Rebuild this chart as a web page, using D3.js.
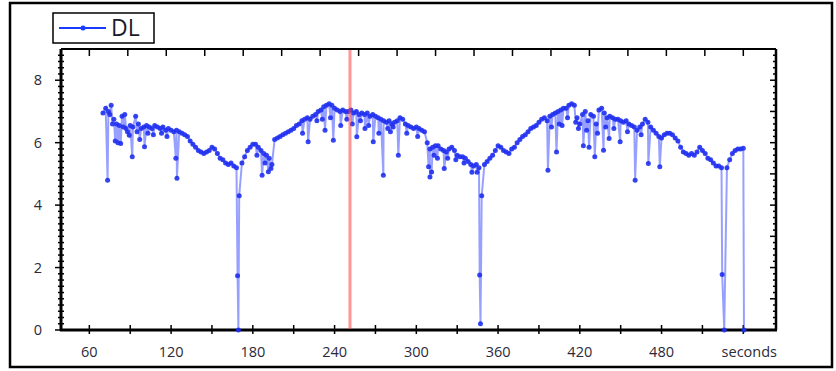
<!DOCTYPE html>
<html>
<head>
<meta charset="utf-8">
<script src="https://cdn.jsdelivr.net/npm/d3@7"></script>
<style>
  body { margin: 0; background: #fff; }
  svg { display: block; font-family: 'Open Sans', 'Noto Sans', sans-serif; }
</style>
</head>
<body>
<div id="chart"></div>
<script>
// DL samples every 2 s starting at 70 s
const startSec = 70;
const stepSec = 2;
const dlBase = [
  6.95, 7.1, 7.0, 7.2, 6.75, 6.6, 6.55, 6.85, 6.9, 6.35,   // 70-88
  6.55, 6.5, 6.85, 6.6, 6.45, 6.5, 6.55, 6.5, 6.45, 6.55,  // 90-108
  6.5, 6.45, 6.5, 6.4, 6.45, 6.4, 6.35, 6.4, 6.35, 6.3,    // 110-128
  6.25, 6.2, 6.05, 5.95, 5.85, 5.75, 5.7, 5.65, 5.7, 5.75, // 130-148
  5.85, 5.8, 5.65, 5.5, 5.45, 5.35, 5.3, 5.35, 5.25, 5.2,  // 150-168
  4.3, 5.35, 5.55, 5.75, 5.85, 5.95, 5.95, 5.85, 5.75, 5.65, // 170-188
  5.6, 5.5, 5.3, 6.1, 6.15, 6.2, 6.25, 6.3, 6.35, 6.4,     // 190-208
  6.45, 6.55, 6.6, 6.7, 6.75, 6.8, 6.75, 6.85, 6.9, 7.0,   // 210-228
  7.05, 7.15, 7.2, 7.25, 7.2, 7.1, 7.05, 7.0, 7.05, 7.0,   // 230-248
  7.0, 7.05, 6.95, 7.0, 6.9, 6.95, 6.9, 6.95, 6.85, 6.9,   // 250-268
  6.85, 6.8, 6.75, 6.7, 6.65, 6.7, 6.6, 6.65, 6.7, 6.8,    // 270-288
  6.75, 6.6, 6.55, 6.5, 6.45, 6.5, 6.45, 6.4, 6.35, 6.0,   // 290-308
  5.8, 5.85, 5.9, 5.9, 5.8, 5.75, 5.7, 5.8, 5.85, 5.75,    // 310-328
  5.6, 5.55, 5.55, 5.5, 5.4, 5.3, 5.25, 5.3, 5.2, 4.3,     // 330-348
  5.3, 5.4, 5.5, 5.6, 5.75, 5.9, 5.85, 5.75, 5.7, 5.65,    // 350-368
  5.8, 5.85, 6.0, 6.1, 6.2, 6.25, 6.35, 6.45, 6.5, 6.55,   // 370-388
  6.65, 6.75, 6.8, 6.7, 6.85, 6.9, 6.95, 7.0, 7.05, 7.1,   // 390-408
  7.1, 7.2, 7.25, 7.2, 6.8, 6.6, 6.9, 7.0, 6.7, 6.9,       // 410-428
  6.85, 6.6, 7.05, 7.1, 6.95, 6.8, 6.85, 6.8, 6.75, 6.75,  // 430-448
  6.7, 6.65, 6.7, 6.6, 6.55, 6.5, 6.4, 6.5, 6.6, 6.75,     // 450-468
  6.65, 6.5, 6.4, 6.3, 6.2, 6.15, 6.25, 6.3, 6.3, 6.25,    // 470-488
  6.15, 6.05, 5.85, 5.7, 5.65, 5.6, 5.65, 5.6, 5.7, 5.85,  // 490-508
  5.75, 5.65, 5.5, 5.45, 5.35, 5.25, 5.25, 5.2, 0, 5.2,    // 510-528
  5.45, 5.65, 5.75, 5.8, 5.8, 5.82                          // 530-540
];

// extra samples in between (drop-outs and jitter), [seconds, value]
const dlSpikes = [
  [73.4, 4.8], [75, 6.9], [77, 6.6], [79, 6.05], [81, 6.0], [83, 5.97], [85, 6.5], [87, 6.45],
  [89.3, 6.24], [91.5, 5.55], [95, 6.35], [97, 6.1], [100.5, 5.87], [103, 6.3], [107, 6.25],
  [113, 6.3], [117, 6.2], [123.5, 5.5], [124.3, 4.86],
  [168.8, 1.74], [169.4, 0],
  [183, 5.6], [186.8, 4.96], [189, 5.35], [191.4, 5.07], [193.3, 5.17],
  [216.5, 6.3], [220.6, 6.03], [227, 6.7], [231, 6.75],
  [233, 6.4], [237, 6.8], [239.1, 6.08], [244.5, 6.55], [249, 6.75], [253, 6.6],
  [256.3, 6.19], [259, 6.7], [262.3, 6.45], [265, 6.55], [268.4, 6.03], [272.5, 6.3], [275.8, 4.96],
  [279, 6.45], [281, 6.35], [283, 6.5], [286.8, 5.6], [293, 6.3], [301, 6.2],
  [309, 5.23], [310, 4.9], [311.2, 5.06], [313, 5.6], [315.5, 5.5], [320.5, 5.17], [323, 5.5],
  [329, 5.45], [335, 5.35], [340.8, 5.05], [344.6, 5.05], [346.5, 1.76], [347.1, 0.2],
  [396.6, 5.12], [399.2, 6.5], [402.9, 5.7], [405, 6.6], [407, 6.55], [411, 6.8], [417, 6.65],
  [419, 6.45], [422.6, 5.9], [425, 6.4], [426.8, 5.85], [431, 5.55], [433, 6.3], [437.4, 5.76],
  [439, 6.5], [441.5, 6.13], [445, 6.45], [449.6, 6.03], [455, 6.35],
  [460.6, 4.8], [465, 6.25], [470.3, 5.33], [478.7, 5.23],
  [524.5, 1.78], [540.5, 0]
];

const markerSec = 251.3;   // red cursor
const xTickLabels = [60, 120, 180, 240, 300, 360, 420, 480];
const yTickLabels = [0, 2, 4, 6, 8];

const width = 836, height = 371;
const plot = { left: 61, right: 776, top: 49, bottom: 330 };

const points = dlBase.map((v, i) => ({ t: startSec + i * stepSec, v }))
  .concat(dlSpikes.map(d => ({ t: d[0], v: d[1] })))
  .sort((a, b) => a.t - b.t);

const x = d3.scaleLinear().domain([39.2, 564]).range([plot.left, plot.right]);
const y = d3.scaleLinear().domain([0, 9]).range([plot.bottom, plot.top]);

const svg = d3.select('#chart').append('svg').attr('width', width).attr('height', height);

const defs = svg.append('defs');
defs.append('filter').attr('id', 'soft')
  .append('feGaussianBlur').attr('stdDeviation', 0.45);

// outer frame
svg.append('rect')
  .attr('x', 10).attr('y', 3).attr('width', 822).attr('height', 364)
  .attr('fill', '#fff').attr('stroke', '#000').attr('stroke-width', 2.5);

// ticks
const tickG = svg.append('g').attr('stroke', '#000').attr('stroke-width', 1.5);

// bottom ticks every 30 s, crossing the axis line
tickG.selectAll('.bt').data(d3.range(60, 541, 30)).enter().append('line')
  .attr('x1', d => x(d)).attr('x2', d => x(d))
  .attr('y1', plot.bottom - 5).attr('y2', plot.bottom + 4);

// top ticks (different subdivision), pointing in
tickG.selectAll('.tt').data(d3.range(0, 18)).enter().append('line')
  .attr('x1', i => x(60 + i * 480 / 17)).attr('x2', i => x(60 + i * 480 / 17))
  .attr('y1', plot.top).attr('y2', plot.top + 7);

// left ticks
tickG.selectAll('.lt').data(d3.range(0, 45)).enter().append('line')
  .attr('y1', i => y(i * 0.2)).attr('y2', i => y(i * 0.2))
  .attr('x1', i => (i % 10 === 0 ? plot.left - 6 : plot.left - 3))
  .attr('x2', plot.left + 3);

// right ticks, pointing in
tickG.selectAll('.rt').data(d3.range(0, 45)).enter().append('line')
  .attr('y1', i => y(i * 0.2)).attr('y2', i => y(i * 0.2))
  .attr('x1', i => (i % 5 === 0 ? plot.right - 6 : plot.right - 3))
  .attr('x2', plot.right);

// axis lines
svg.append('line').attr('x1', plot.left).attr('x2', plot.right).attr('y1', plot.top).attr('y2', plot.top)
  .attr('stroke', '#000').attr('stroke-width', 2);
svg.append('line').attr('x1', plot.right).attr('x2', plot.right).attr('y1', plot.top).attr('y2', plot.bottom)
  .attr('stroke', '#000').attr('stroke-width', 2.5);
svg.append('line').attr('x1', plot.left).attr('x2', plot.left).attr('y1', plot.top).attr('y2', plot.bottom + 1)
  .attr('stroke', '#000').attr('stroke-width', 3);
svg.append('line').attr('x1', plot.left - 1).attr('x2', plot.right + 1).attr('y1', plot.bottom).attr('y2', plot.bottom)
  .attr('stroke', '#000').attr('stroke-width', 3);

// tick labels
svg.selectAll('.xl').data(xTickLabels).enter().append('text')
  .attr('x', d => x(d)).attr('y', 357)
  .attr('text-anchor', 'middle').attr('font-size', 14.5).attr('fill', '#2a2a3a')
  .text(d => d);
svg.append('text').attr('x', x(540) + 6).attr('y', 357)
  .attr('text-anchor', 'middle').attr('font-size', 14.5).attr('fill', '#2a2a3a')
  .text('seconds');
svg.selectAll('.yl').data(yTickLabels).enter().append('text')
  .attr('x', 42).attr('y', d => y(d) + 5)
  .attr('text-anchor', 'end').attr('font-size', 14.5).attr('fill', '#2a2a3a')
  .text(d => d);

// data
const dataG = svg.append('g').attr('filter', 'url(#soft)');
const line = d3.line().x(d => x(d.t)).y(d => y(d.v));
dataG.append('path').datum(points)
  .attr('d', line)
  .attr('fill', 'none')
  .attr('stroke', '#3344ff')
  .attr('stroke-opacity', 0.5)
  .attr('stroke-width', 2);

dataG.selectAll('.dot').data(points).enter().append('circle')
  .attr('cx', d => x(d.t)).attr('cy', d => y(d.v))
  .attr('r', 2.5)
  .attr('fill', '#2030f0')
  .attr('fill-opacity', 0.9);

// red cursor
svg.append('line')
  .attr('x1', x(markerSec)).attr('x2', x(markerSec))
  .attr('y1', plot.top + 1).attr('y2', plot.bottom - 1)
  .attr('stroke', '#ff4040').attr('stroke-opacity', 0.55).attr('stroke-width', 3);

// legend
const legend = svg.append('g');
legend.append('rect')
  .attr('x', 53).attr('y', 13).attr('width', 101).attr('height', 30)
  .attr('fill', '#fff').attr('stroke', '#000').attr('stroke-width', 1.5);
legend.append('line')
  .attr('x1', 59).attr('x2', 106).attr('y1', 28).attr('y2', 28)
  .attr('stroke', '#1a3cff').attr('stroke-width', 2.2);
legend.append('circle').attr('cx', 83).attr('cy', 28).attr('r', 2.5).attr('fill', '#1a3cff');
legend.append('text')
  .attr('x', 111).attr('y', 36)
  .attr('font-size', 23).attr('fill', '#1a1a2a')
  .text('DL');
</script>
</body>
</html>
